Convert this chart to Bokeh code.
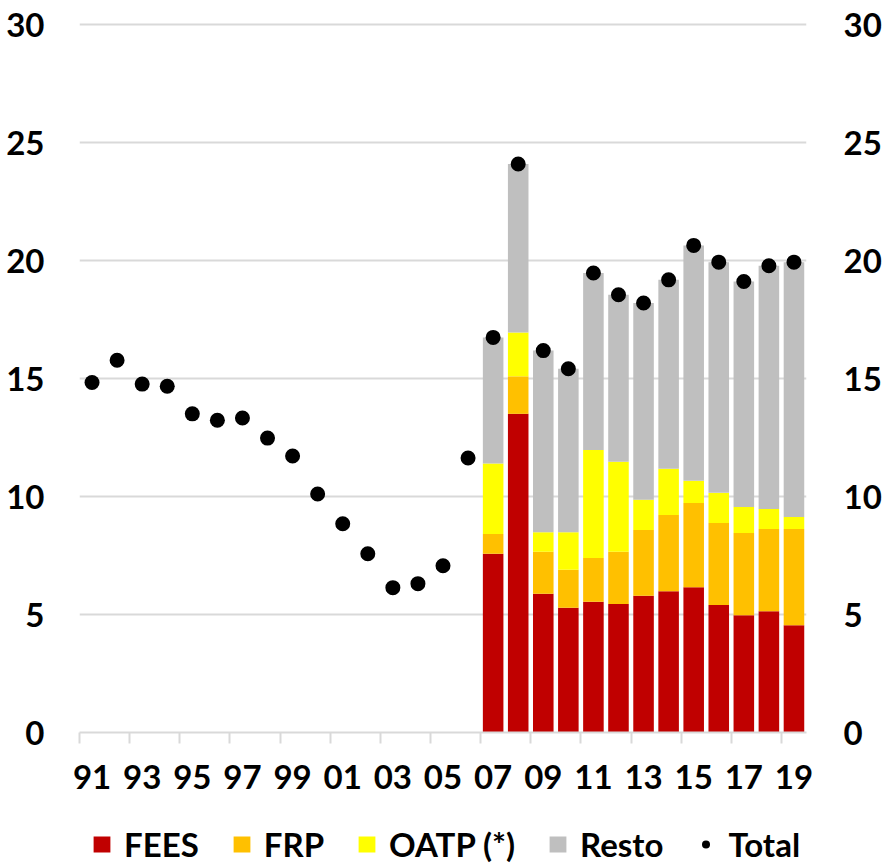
from bokeh.plotting import figure
from bokeh.layouts import column
from bokeh.models import (Range1d, LinearAxis, FixedTicker, Legend, LegendItem,
                          ColumnDataSource)
from bokeh.embed import file_html
from bokeh.resources import INLINE

# ---- data ----
years_all = list(range(1991, 2020))
total = [14.84, 15.78, 14.77, 14.68, 13.51, 13.24, 13.33, 12.48, 11.72, 10.11,
         8.85, 7.58, 6.14, 6.31, 7.07, 11.64, 16.75, 24.10, 16.19, 15.42,
         19.48, 18.56, 18.21, 19.19, 20.65, 19.94, 19.12, 19.79, 19.94]

years_bar = list(range(2007, 2020))
fees = [7.58, 13.51, 5.88, 5.29, 5.54, 5.45, 5.80, 5.99, 6.16, 5.40, 4.97, 5.14, 4.55]
frp = [0.83, 1.59, 1.78, 1.61, 1.86, 2.21, 2.79, 3.23, 3.57, 3.48, 3.49, 3.49, 4.08]
oatp = [2.99, 1.86, 0.83, 1.59, 4.58, 3.82, 1.28, 1.96, 0.94, 1.28, 1.10, 0.85, 0.51]
resto = [5.35, 7.14, 7.70, 6.93, 7.50, 7.08, 8.34, 8.01, 9.98, 9.78, 9.56, 10.31, 10.80]

series_names = ["FEES", "FRP", "OATP (*)", "Resto"]
series_colors = ["#C00000", "#FFC000", "#FFFF00", "#BFBFBF"]

label_ticks = [y for y in years_all if y % 2 == 1]
tick_labels = {y: str(y)[2:] for y in label_ticks}
boundary_ticks = [y - 0.5 for y in label_ticks]
y_ticks = [0, 5, 10, 15, 20, 25, 30]

FONT = "Lato"
FSIZE = "33px"
GRID = "#d9d9d9"

# ---- main chart ----
fig = figure(frame_width=727, frame_height=710, output_backend="svg",
             toolbar_location=None,
             x_range=Range1d(1990.5, 2019.5), y_range=Range1d(0, 30.1),
             min_border_left=79, min_border_right=78, min_border_top=22,
             min_border_bottom=76, x_axis_location=None, y_axis_location=None)
fig.outline_line_color = None
fig.xgrid.grid_line_color = None
fig.ygrid.grid_line_color = GRID
fig.ygrid.grid_line_width = 2
fig.ygrid.ticker = FixedTicker(ticks=y_ticks)

src = ColumnDataSource(dict(x=years_bar, FEES=fees, FRP=frp, OATP=oatp, Resto=resto))
fig.vbar_stack(["FEES", "FRP", "OATP", "Resto"], x="x", width=0.82,
               color=series_colors, line_color=None, source=src)
fig.scatter(years_all, total, size=15, color="black", line_color=None)

xax = LinearAxis(ticker=FixedTicker(ticks=label_ticks, minor_ticks=boundary_ticks))
xax.major_label_overrides = tick_labels
xax.axis_line_color = GRID
xax.axis_line_width = 2
xax.major_tick_line_color = None
xax.major_tick_out = 11
xax.major_tick_in = 0
xax.minor_tick_line_color = GRID
xax.minor_tick_line_width = 2
xax.minor_tick_out = 11
xax.minor_tick_in = 0
xax.major_label_standoff = 21
xax.major_label_text_font = FONT
xax.major_label_text_font_style = "bold"
xax.major_label_text_font_size = FSIZE
xax.major_label_text_color = "black"
fig.add_layout(xax, "below")

for side, standoff in (("left", 35), ("right", 37)):
    ax = LinearAxis(ticker=FixedTicker(ticks=y_ticks))
    ax.axis_line_color = None
    ax.major_tick_line_color = None
    ax.minor_tick_line_color = None
    ax.major_tick_out = 0
    ax.major_tick_in = 0
    ax.major_label_standoff = standoff
    ax.major_label_text_font = FONT
    ax.major_label_text_font_style = "bold"
    ax.major_label_text_font_size = FSIZE
    ax.major_label_text_color = "black"
    fig.add_layout(ax, side)

# ---- legend strip (key glyphs have no visible area of their own) ----
leg = figure(frame_width=727, frame_height=56, output_backend="svg",
             toolbar_location=None,
             x_range=Range1d(0, 1), y_range=Range1d(0, 1),
             min_border_left=79, min_border_right=78, min_border_top=0,
             min_border_bottom=0, x_axis_location=None, y_axis_location=None)
leg.outline_line_color = None
leg.grid.grid_line_color = None

items = []
for name, color in zip(series_names, series_colors):
    r = leg.vbar(x=[0.5], top=[0], bottom=[0], width=0.1, color=color, line_color=None)
    items.append(LegendItem(label=name, renderers=[r]))
rdot = leg.scatter(x=[0.5], y=[-5], size=15, color="black", line_color=None)
items.append(LegendItem(label="Total", renderers=[rdot]))

legend = Legend(items=items, location=(12, 0), orientation="horizontal",
                border_line_color=None, background_fill_alpha=0,
                padding=0, margin=0, spacing=32, label_standoff=12,
                glyph_width=21, glyph_height=20,
                label_text_font=FONT, label_text_font_style="bold",
                label_text_font_size=FSIZE, label_text_color="black")
leg.add_layout(legend, "center")

p = column(fig, leg, spacing=0)

open("out.html", "w").write(file_html(p, INLINE))
